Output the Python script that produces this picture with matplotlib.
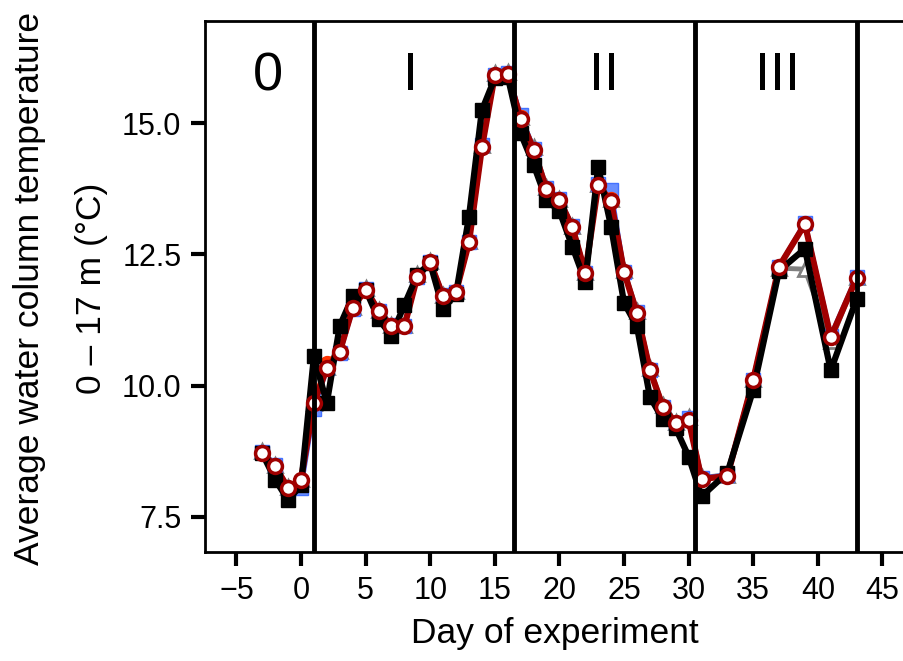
import matplotlib
matplotlib.use("Agg")
import matplotlib.pyplot as plt

plt.rcParams['font.family'] = ['Liberation Sans', 'DejaVu Sans']

days = [-3, -2, -1, 0, 1, 2, 3, 4, 5, 6, 7, 8, 9, 10, 11, 12, 13, 14, 15, 16,
        17, 18, 19, 20, 21, 22, 23, 24, 25, 26, 27, 28, 29, 30, 31, 33, 35,
        37, 39, 41, 43]

temp_black = [8.71, 8.21, 7.82, 8.10, 10.56, 9.67, 11.14, 11.70, 11.83, 11.27,
              10.95, 11.54, 12.11, 12.33, 11.46, 11.75, 13.22, 15.25, 15.86,
              15.89, 14.81, 14.21, 13.54, 13.33, 12.65, 11.98, 14.17, 13.03,
              11.58, 11.13, 9.79, 9.36, 9.19, 8.65, 7.89, 8.34, 9.92, 12.19,
              12.61, 10.29, 11.65]

temp_darkred = [8.72, 8.46, 8.05, 8.21, 9.67, 10.33, 10.65, 11.48, 11.83, 11.43,
                11.13, 11.13, 12.08, 12.35, 11.70, 11.79, 12.73, 14.54, 15.92,
                15.94, 15.08, 14.50, 13.74, 13.54, 13.02, 12.15, 13.82, 13.51,
                12.17, 11.38, 10.30, 9.60, 9.29, 9.35, 8.22, 8.28, 10.11, 12.27,
                13.08, 10.92, 12.05]

temp_orange = [8.72, 8.46, 8.05, 8.21, 9.70, 10.43, 10.65, 11.48, 11.83, 11.43,
               11.13, 11.13, 12.08, 12.35, 11.70, 11.79, 12.73, 14.54, 15.92,
               15.94, 15.12, 14.50, 13.74, 13.54, 13.02, 12.15, 13.82, 13.55,
               12.17, 11.38, 10.30, 9.60, 9.29, 9.35, 8.22, 8.28, 10.11, 12.27,
               13.08, 10.92, 12.05]

temp_blue = [8.74, 8.48, 8.03, 8.05, 9.55, 10.33, 10.62, 11.46, 11.85, 11.43,
             11.15, 11.13, 12.08, 12.35, 11.72, 11.79, 12.73, 14.58, 15.92,
             15.96, 15.15, 14.52, 13.76, 13.56, 13.04, 12.15, 13.84, 13.72,
             12.17, 11.40, 10.30, 9.60, 9.29, 9.38, 8.24, 8.30, 10.11, 12.27,
             13.10, 10.95, 12.07]

temp_grey = [8.76, 8.48, 8.07, 8.23, 9.67, 10.35, 10.67, 11.50, 11.87, 11.45,
             11.15, 11.15, 12.12, 12.37, 11.72, 11.81, 12.75, 14.58, 15.96,
             15.98, 15.12, 14.54, 13.78, 13.56, 13.04, 12.17, 13.84, 13.55,
             12.20, 11.42, 10.33, 9.63, 9.31, 9.40, 8.25, 8.30, 10.13, 12.24,
             12.22, 10.85, 12.07]

phase_bounds = [1, 16.5, 30.5, 43]
phase_labels = ["0", "I", "II", "III"]
phase_label_x = [-2.55, 8.45, 23.45, 36.9]

fig = plt.figure(figsize=(9.04, 6.61), dpi=100)
ax = fig.add_axes([205/904, 109/661, 699/904, 531/661])

ax.plot(days, temp_grey, color='#808080', lw=3.5, marker='^', ms=10,
        mfc='white', mec='#808080', mew=2, zorder=2)
ax.plot(days, temp_blue, color='#4472FF', lw=3.5, marker='s', ms=10,
        mfc='#6A8FFF', mec='#4472FF', zorder=2.1)
ax.plot(days, temp_orange, color='#FF3300', lw=3.5, marker='o', ms=10,
        mfc='#FF3300', mec='#FF3300', zorder=2.2)
ax.plot(days, temp_darkred, color='#A00000', lw=4.5, zorder=3)
ax.plot(days, temp_black, color='black', lw=4.5, marker='s', ms=10.5,
        mfc='black', mec='black', zorder=4)
ax.plot(days, temp_darkred, ls='none', marker='o', ms=10, mfc='white',
        mec='#A00000', mew=2.5, zorder=5)

for b in phase_bounds:
    ax.axvline(b, color='black', lw=3.5, zorder=6)
for lab, xl in zip(phase_labels, phase_label_x):
    ax.text(xl, 15.9, lab, fontsize=39, ha='center', va='center', zorder=7)

ax.set_xlim(-7.43, 46.67)
ax.set_ylim(6.83, 16.95)
ax.set_xticks([-5, 0, 5, 10, 15, 20, 25, 30, 35, 40, 45])
ax.set_xticklabels(['\u22125', '0', '5', '10', '15', '20', '25', '30', '35', '40', '45'])
ax.set_yticks([7.5, 10.0, 12.5, 15.0])
ax.set_yticklabels(['7.5', '10.0', '12.5', '15.0'])
ax.tick_params(axis='both', labelsize=22, length=10, width=3, pad=7)
ax.spines['right'].set_visible(False)
for s in ['left', 'bottom', 'top']:
    ax.spines[s].set_linewidth(2)

ax.set_xlabel('Day of experiment', fontsize=25.5, labelpad=8)
fig.text(30/904, 1 - 288/661, 'Average water column temperature', rotation=90,
         fontsize=25.5, ha='center', va='center')
fig.text(92/904, 1 - 288/661, '0 \u2013 17 m (\u00b0C)', rotation=90,
         fontsize=25.5, ha='center', va='center')

fig.savefig('out.png', dpi=100)
